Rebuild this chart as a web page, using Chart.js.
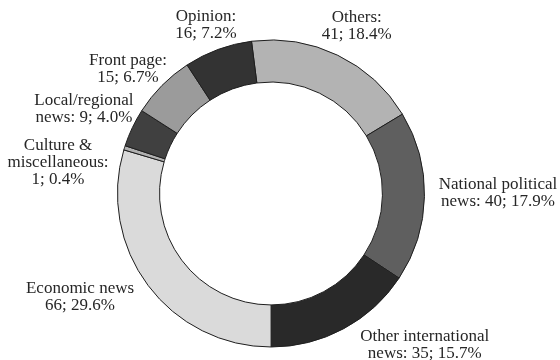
<!DOCTYPE html>
<html>
<head>
<meta charset="utf-8">
<script src="https://cdn.jsdelivr.net/npm/chart.js@4/dist/chart.umd.min.js"></script>
<style>
  html, body { margin: 0; padding: 0; background: #ffffff; }
  #wrap { width: 560px; height: 360px; }
</style>
</head>
<body>
<div id="wrap"><canvas id="c" width="560" height="360"></canvas></div>
<script>
// ---- data ----
const categories = [
  "Others",
  "National political news",
  "Other international news",
  "Economic news",
  "Culture & miscellaneous",
  "Local/regional news",
  "Front page",
  "Opinion"
];
const values = [41, 40, 35, 66, 1, 9, 15, 16];
// label text as shown on the chart (name lines, then prefix joined to "value; pct")
const labelNameLines = [
  ["Others:"],
  ["National political"],
  ["Other international"],
  ["Economic news"],
  ["Culture &", "miscellaneous:"],
  ["Local/regional"],
  ["Front page:"],
  ["Opinion:"]
];
const labelValuePrefix = ["", "news: ", "news: ", "", "", "news: ", "", ""];

// ---- styling / layout (not data) ----
const sliceColors = ["#b3b3b3", "#5f5f5f", "#292929", "#dadada", "#b0b0b0", "#404040", "#9b9b9b", "#333333"];
// label offsets (px) from the slice's outer mid-point: [dx to text centre, dy to first baseline]
const labelOffsets = [
  [19, -33.6], [73.5, -7.4], [81, 12.4], [-68, 7.3],
  [-66.4, 2.1], [-48.4, -22.6], [-34, -20.4], [-12, -28.5]
];
const FONT = '17px "Liberation Serif", "Times New Roman", serif';
const LINE_H = 17;

const total = values.reduce((a, b) => a + b, 0);

const labelPlugin = {
  id: 'outerLabels',
  afterDatasetsDraw(chart) {
    const ctx = chart.ctx;
    const meta = chart.getDatasetMeta(0);
    ctx.save();
    ctx.font = FONT;
    ctx.fillStyle = '#262626';
    ctx.textAlign = 'center';
    ctx.textBaseline = 'alphabetic';
    meta.data.forEach((arc, i) => {
      const p = arc.getProps(['x', 'y', 'startAngle', 'endAngle', 'outerRadius'], true);
      const mid = (p.startAngle + p.endAngle) / 2;
      const mx = p.x + Math.cos(mid) * p.outerRadius;
      const my = p.y + Math.sin(mid) * p.outerRadius;
      const cx = mx + labelOffsets[i][0];
      const by = my + labelOffsets[i][1];
      const pct = (values[i] / total * 100).toFixed(1);
      const lines = labelNameLines[i].slice();
      lines.push(labelValuePrefix[i] + values[i] + '; ' + pct + '%');
      lines.forEach((t, k) => ctx.fillText(t, cx, by + k * LINE_H));
    });
    ctx.restore();
  }
};

new Chart(document.getElementById('c'), {
  type: 'doughnut',
  data: {
    labels: categories,
    datasets: [{
      data: values,
      backgroundColor: sliceColors,
      borderColor: '#1e1e1e',
      borderWidth: 1
    }]
  },
  options: {
    responsive: false,
    animation: false,
    rotation: -7.3,
    cutout: '72.6%',
    layout: { padding: { top: 39.5, bottom: 12.5, left: 100, right: 118 } },
    plugins: {
      legend: { display: false },
      tooltip: { enabled: false }
    }
  },
  plugins: [labelPlugin]
});
</script>
</body>
</html>
